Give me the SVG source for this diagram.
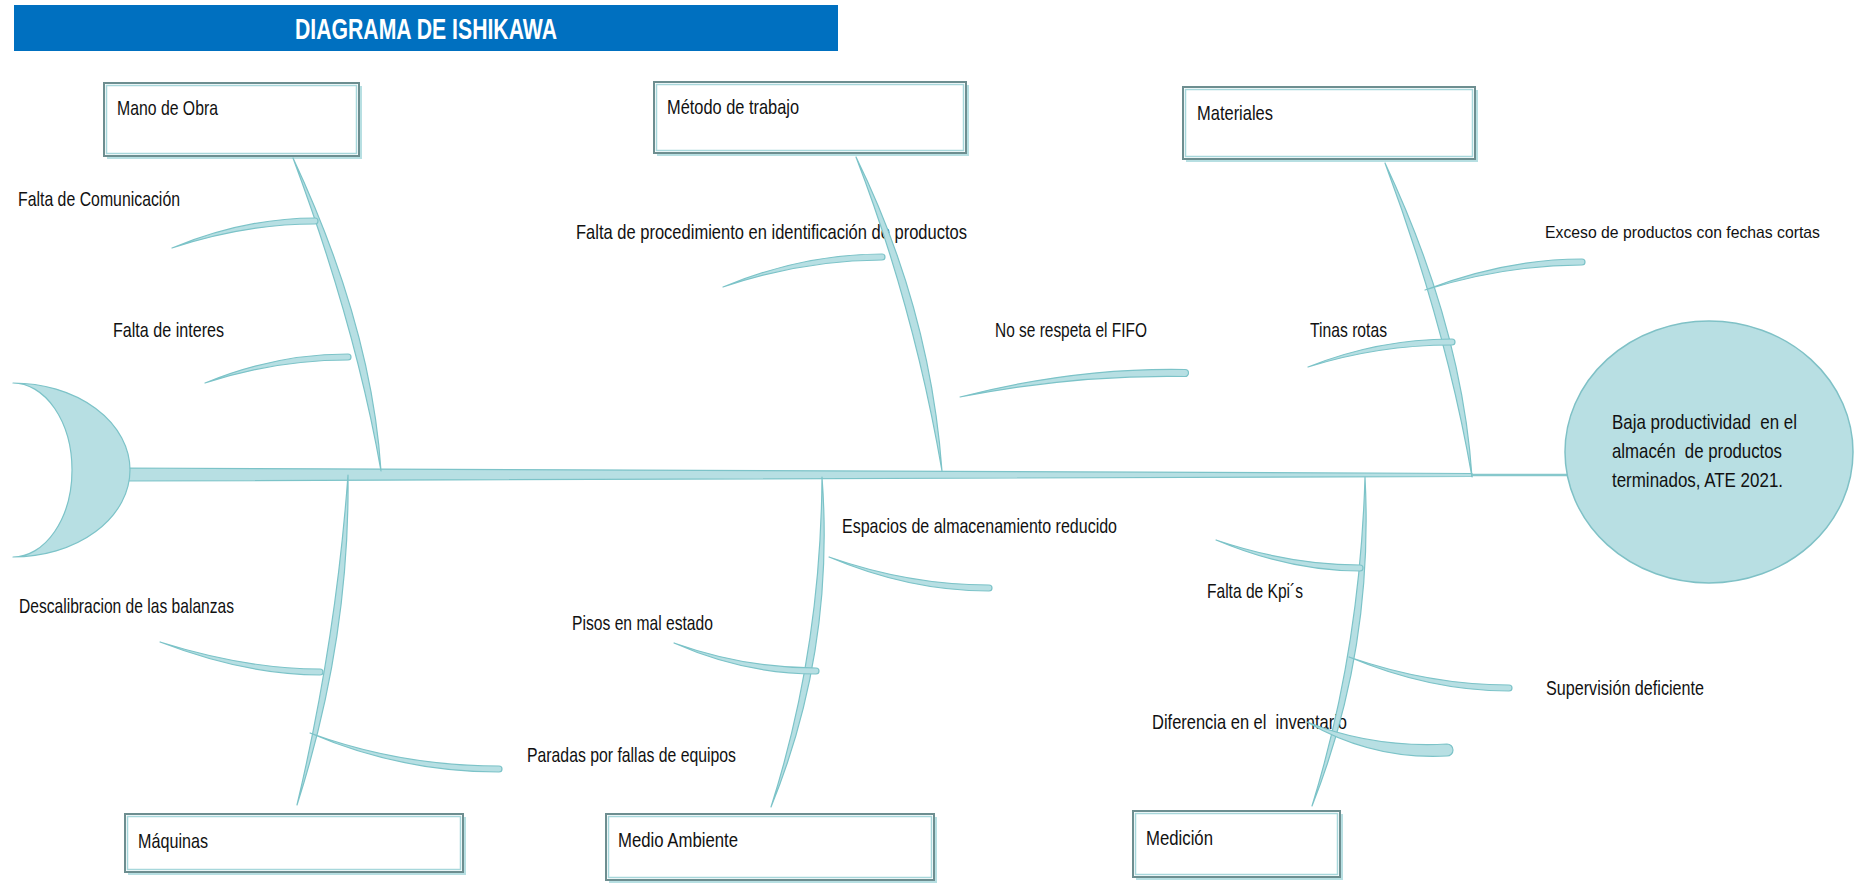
<svg xmlns="http://www.w3.org/2000/svg" width="1854" height="883" viewBox="0 0 1854 883">
  <style>
    .shadow { fill: #b7dfe2; }
    .box { fill: #ffffff; stroke: #6d8e90; stroke-width: 2; }
    .inner { fill: none; stroke: #a7d7db; stroke-width: 1.5; }
    .bone { fill: #b7dfe3; stroke: #7cc3c8; stroke-width: 1.2; stroke-linejoin: round; }
    .lbl { font-family: "Liberation Sans", Arial, sans-serif; font-size: 21px; fill: #111111; }
    .title { font-family: "Liberation Sans", Arial, sans-serif; font-size: 30px; font-weight: bold; fill: #ffffff; }
  </style>

  <rect width="1854" height="883" fill="#ffffff"/>

  <!-- header band -->
  <g id="title">
    <rect x="14" y="5" width="824" height="46" fill="#0070c0"/>
    <text class="title" x="426" y="39" text-anchor="middle" textLength="262" lengthAdjust="spacingAndGlyphs">DIAGRAMA DE ISHIKAWA</text>
  </g>

  <!-- category boxes -->
  <g id="cat-mano-obra">
    <rect class="shadow" x="107" y="86" width="255" height="73"/>
    <rect class="box" x="104" y="83" width="255" height="73"/>
    <rect class="inner" x="106.5" y="85.5" width="250" height="68"/>
    <text class="lbl" x="117" y="115" textLength="101" lengthAdjust="spacingAndGlyphs">Mano de Obra</text>
  </g>
  <g id="cat-metodo">
    <rect class="shadow" x="657" y="85" width="312" height="71"/>
    <rect class="box" x="654" y="82" width="312" height="71"/>
    <rect class="inner" x="656.5" y="84.5" width="307" height="66"/>
    <text class="lbl" x="667" y="114" textLength="132" lengthAdjust="spacingAndGlyphs">Método de trabajo</text>
  </g>
  <g id="cat-materiales">
    <rect class="shadow" x="1186" y="90" width="292" height="72"/>
    <rect class="box" x="1183" y="87" width="292" height="72"/>
    <rect class="inner" x="1185.5" y="89.5" width="287" height="67"/>
    <text class="lbl" x="1197" y="120" textLength="76" lengthAdjust="spacingAndGlyphs">Materiales</text>
  </g>
  <g id="cat-maquinas">
    <rect class="shadow" x="128" y="817" width="338" height="58"/>
    <rect class="box" x="125" y="814" width="338" height="58"/>
    <rect class="inner" x="127.5" y="816.5" width="333" height="53"/>
    <text class="lbl" x="138" y="848" textLength="70" lengthAdjust="spacingAndGlyphs">Máquinas</text>
  </g>
  <g id="cat-medio-ambiente">
    <rect class="shadow" x="609" y="817" width="328" height="66"/>
    <rect class="box" x="606" y="814" width="328" height="66"/>
    <rect class="inner" x="608.5" y="816.5" width="323" height="61"/>
    <text class="lbl" x="618" y="847" textLength="120" lengthAdjust="spacingAndGlyphs">Medio Ambiente</text>
  </g>
  <g id="cat-medicion">
    <rect class="shadow" x="1136" y="814" width="207" height="66"/>
    <rect class="box" x="1133" y="811" width="207" height="66"/>
    <rect class="inner" x="1135.5" y="813.5" width="202" height="61"/>
    <text class="lbl" x="1146" y="845" textLength="67" lengthAdjust="spacingAndGlyphs">Medición</text>
  </g>

  <!-- cause labels -->
  <g id="causes">
    <text class="lbl" x="18" y="206" textLength="162" lengthAdjust="spacingAndGlyphs">Falta de Comunicación</text>
    <text class="lbl" x="113" y="337" textLength="111" lengthAdjust="spacingAndGlyphs">Falta de interes</text>
    <text class="lbl" x="576" y="239" textLength="391" lengthAdjust="spacingAndGlyphs">Falta de procedimiento en identificación de productos</text>
    <text class="lbl" x="995" y="337" textLength="152" lengthAdjust="spacingAndGlyphs">No se respeta el FIFO</text>
    <text class="lbl" x="1545" y="238" style="font-size:17px" textLength="275" lengthAdjust="spacingAndGlyphs">Exceso de productos con fechas cortas</text>
    <text class="lbl" x="1310" y="337" textLength="77" lengthAdjust="spacingAndGlyphs">Tinas rotas</text>
    <text class="lbl" x="19" y="613" textLength="215" lengthAdjust="spacingAndGlyphs">Descalibracion de las balanzas</text>
    <text class="lbl" x="527" y="762" textLength="209" lengthAdjust="spacingAndGlyphs">Paradas por fallas de equipos</text>
    <text class="lbl" x="842" y="533" textLength="275" lengthAdjust="spacingAndGlyphs">Espacios de almacenamiento reducido</text>
    <text class="lbl" x="572" y="630" textLength="141" lengthAdjust="spacingAndGlyphs">Pisos en mal estado</text>
    <text class="lbl" x="1207" y="598" textLength="96" lengthAdjust="spacingAndGlyphs">Falta de Kpi´s</text>
    <text class="lbl" x="1546" y="695" textLength="158" lengthAdjust="spacingAndGlyphs">Supervisión deficiente</text>
    <text class="lbl" x="1152" y="729" textLength="195" lengthAdjust="spacingAndGlyphs" xml:space="preserve">Diferencia en el  inventario</text>
  </g>

  <!-- backbone, head and bones -->
  <g id="connectors">
    <path class="bone" d="M120 468 L1472 473.5 L1472 476.5 L120 481 Z"/>
    <line x1="1472" y1="475" x2="1570" y2="475" stroke="#86c8cc" stroke-width="2.5"/>

    <!-- category bones -->
    <path class="bone" d="M293 158 Q371.6 326 381 471 Q355.6 326 293 158 Z"/>
    <path class="bone" d="M856 157 Q930 308 942 471 Q914 308 856 157 Z"/>
    <path class="bone" d="M1385 163 Q1462 327 1472 477 Q1446 327 1385 163 Z"/>
    <path class="bone" d="M348 475 Q350 640 297 805 Q336 640 348 475 Z"/>
    <path class="bone" d="M822 477 Q835 650 771 807 Q821 650 822 477 Z"/>
    <path class="bone" d="M1365 477 Q1374 650 1312 806 Q1360 650 1365 477 Z"/>

    <!-- cause bones -->
    <path class="bone" d="M172 248 Q245 218 315 218 A3 3 0 0 1 315 224 Q245 224 172 248 Z"/>
    <path class="bone" d="M205 383 Q275 354 348 354 A3 3 0 0 1 348 360 Q275 360 205 383 Z"/>
    <path class="bone" d="M723 287 Q803 254 882 254 A3 3 0 0 1 882 260 Q803 260 723 287 Z"/>
    <path class="bone" d="M960 397 Q1075 367.5 1185 369.5 A3.5 3.5 0 0 1 1185 376.5 Q1075 374.5 960 397 Z"/>
    <path class="bone" d="M1425 290 Q1505 259 1582 259 A3 3 0 0 1 1582 265 Q1505 265 1425 290 Z"/>
    <path class="bone" d="M1308 367 Q1378 339 1452 339 A3 3 0 0 1 1452 345 Q1378 345 1308 367 Z"/>
    <path class="bone" d="M160 642 Q246 669 320 669 A3 3 0 0 1 320 675 Q246 675 160 642 Z"/>
    <path class="bone" d="M310 733 Q400 766 499 766 A3 3 0 0 1 499 772 Q400 772 310 733 Z"/>
    <path class="bone" d="M829 557 Q909 585 989 585 A3 3 0 0 1 989 591 Q909 591 829 557 Z"/>
    <path class="bone" d="M674 643 Q744 668 816 668 A3 3 0 0 1 816 674 Q744 674 674 643 Z"/>
    <path class="bone" d="M1216 540 Q1290 565 1360 565 A3 3 0 0 1 1360 571 Q1290 571 1216 540 Z"/>
    <path class="bone" d="M1349 657 Q1430 685 1509 685 A3 3 0 0 1 1509 691 Q1430 691 1349 657 Z"/>
    <path class="bone" d="M1307 722 Q1372 748 1447 744 A6 6 0 0 1 1447 756 Q1372 760 1307 722 Z"/>
  </g>

  <!-- fish head (crescent) -->
  <g id="head">
    <path class="bone" d="M13 383 A117 87 0 0 1 13 557 A59 87 0 0 0 13 383 Z"/>
  </g>

  <!-- effect -->
  <g id="effect">
    <ellipse cx="1709" cy="452" rx="144" ry="131" fill="#b8dfe3" stroke="#7fc1c6" stroke-width="1.5"/>
    <text class="lbl" x="1612" y="429" textLength="185" lengthAdjust="spacingAndGlyphs" xml:space="preserve">Baja productividad  en el</text>
    <text class="lbl" x="1612" y="458" textLength="170" lengthAdjust="spacingAndGlyphs" xml:space="preserve">almacén  de productos</text>
    <text class="lbl" x="1612" y="487" textLength="171" lengthAdjust="spacingAndGlyphs">terminados, ATE 2021.</text>
  </g>
</svg>
